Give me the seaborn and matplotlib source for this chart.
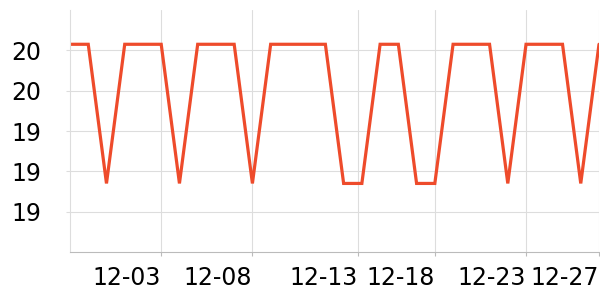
import matplotlib
matplotlib.use("Agg")
import matplotlib.pyplot as plt
from matplotlib.ticker import FixedLocator, FormatStrFormatter
import seaborn as sns
import pandas as pd

# ---- data ----
dates = pd.date_range("2023-11-28", "2023-12-27", freq="D")
H, L = 19.83, 19.14
values = [H, H, L, H, H, H, L, H, H, H,
          L, H, H, H, H, L, L, H, H, L,
          L, H, H, H, L, H, H, H, L, H]
tick_dates = ["2023-12-03T00:00", "2023-12-08T00:00", "2023-12-13T19:00",
              "2023-12-18T00:00", "2023-12-23T00:00", "2023-12-27T00:00"]
tick_labels = ["12-03", "12-08", "12-13", "12-18", "12-23", "12-27"]
y_ticks = [19.0, 19.2, 19.4, 19.6, 19.8]

df = pd.DataFrame({"date": dates, "value": values})

sns.set_theme(style="white")
plt.rcParams["font.family"] = ["DejaVu Sans"]

fig = plt.figure(figsize=(6, 3), dpi=100)
ax = fig.add_axes([70 / 600, 48 / 300, 529 / 600, 242 / 300])

sns.lineplot(data=df, x="date", y="value", ax=ax, color="#ee4b2b",
             linewidth=2.3, solid_joinstyle="miter")

ax.set_xlim(dates[0], dates[-1])
ax.set_ylim(18.8, 20.0)

ax.set_xticks(pd.to_datetime(tick_dates, format="ISO8601"))
ax.set_xticklabels(tick_labels, ha="right")
ax.yaxis.set_major_locator(FixedLocator(y_ticks))
ax.yaxis.set_major_formatter(FormatStrFormatter("%.0f"))

ax.grid(True, color="#dddddd", linewidth=0.8)
ax.set_axisbelow(True)
for s in ["top", "right"]:
    ax.spines[s].set_visible(False)
ax.spines["left"].set_color("#dddddd")
ax.spines["left"].set_linewidth(0.8)
ax.spines["bottom"].set_color("#bbbbbb")
ax.spines["bottom"].set_linewidth(0.8)

ax.tick_params(axis="x", length=3, width=0.8, color="#bbbbbb",
               labelsize=17, pad=7, labelcolor="black", bottom=True)
ax.tick_params(axis="y", length=3, width=0.8, color="#dddddd",
               labelsize=17, pad=18, labelcolor="black", left=True)
ax.set_xlabel("")
ax.set_ylabel("")

fig.savefig("out.png", dpi=100)
